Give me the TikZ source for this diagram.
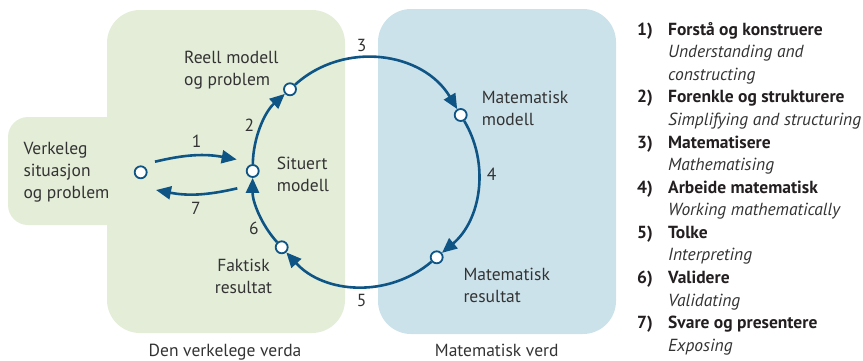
\documentclass[tikz,border=0pt]{standalone}
\usepackage{fontspec}
\setmainfont{PT Sans}
\usetikzlibrary{arrows.meta}
\definecolor{realgreen}{HTML}{E3EDD8}
\definecolor{mathblue}{HTML}{CCE2EB}
\definecolor{cycleblue}{HTML}{0E5586}
\definecolor{labelgrey}{HTML}{333333}
\definecolor{listink}{HTML}{231F20}

\begin{document}
\begin{tikzpicture}[x=1pt,y=1pt,
    ring/.style={circle,draw=cycleblue,fill=white,line width=1.8pt,
      minimum size=12pt,inner sep=0pt},
    flow/.style={draw=cycleblue,line width=2.6pt,
      -{Triangle[length=15pt,width=13pt]}},
    lbl/.style={font=\fontsize{17.5}{22}\selectfont,text=labelgrey,
      align=left,inner sep=0pt},
    num/.style={font=\fontsize{17.5}{22}\selectfont,text=labelgrey,
      inner sep=0pt}]
  \useasboundingbox (0,0) rectangle (863,360);
  % the two worlds
  \fill[realgreen,rounded corners=33] (107,27) rectangle (345,350);
  \fill[realgreen,rounded corners=20] (8,135) rectangle (150,243);
  \fill[mathblue,rounded corners=33] (378,26) rectangle (616,351);
  \node[lbl,anchor=base] (realname) at (225,4) {Den verkelege verda};
  \node[lbl,anchor=base] (mathname) at (496.7,3.5) {Matematisk verd};

  % stations
  \node[ring] (verk) at (140.7,187.7) {};
  \node[ring] (sit) at (252.7,189) {};
  \node[ring] (reell) at (290,270.7) {};
  \node[ring] (matmod) at (460.7,245) {};
  \node[ring] (matres) at (436.7,102.7) {};
  \node[ring] (fakt) at (281.7,112.7) {};

  \node[lbl,anchor=west] (verktext) at (23.3,187.5) {Verkeleg\\situasjon\\og problem};
  \node[lbl,anchor=west] (sittext) at (276.7,185.5) {Situert\\modell};
  \node[lbl,anchor=west] (reelltext) at (184,289.7) {Reell modell\\og problem};
  \node[lbl,anchor=west] (matmodtext) at (481.7,251.3) {Matematisk\\modell};
  \node[lbl,anchor=west] (matrestext) at (463.3,75) {Matematisk\\resultat};
  \node[lbl,align=center] (frakttext) at (243.5,83.5) {Faktisk\\resultat};

  % the cycle
  \draw[flow] (sit) to[bend left=23.7,looseness=0.89] (reell);
  \draw[flow] (reell) to[bend left=50.7,looseness=1.04] (matmod);
  \draw[flow] (matmod) to[bend left=40.4,looseness=0.97] (matres);
  \draw[flow] (matres) to[bend left=44,looseness=0.99] (fakt);
  \draw[flow] (fakt) to[bend left=21.3,looseness=0.88] (sit);
  \draw[flow] ([xshift=14.3pt,yshift=10.6pt]verk.center)
    to[bend left=12] ([xshift=-16pt,yshift=11.5pt]sit.center);
  \draw[flow] ([xshift=-15.4pt,yshift=-17.3pt]sit.center)
    to[bend left=12] ([xshift=15.3pt,yshift=-17.7pt]verk.center);

  \node[num] (n1) at (196.7,218.3) {1};
  \node[num] (n2) at (249.3,235) {2};
  \node[num] (n3) at (361.7,315) {3};
  \node[num] (n4) at (491.7,186) {4};
  \node[num] (n5) at (361.7,60) {5};
  \node[num] (n6) at (254,131.7) {6};
  \node[num] (n7) at (196,151.7) {7};

  % legend of the steps
  \node[anchor=base west,inner sep=0pt,text=listink,
    font=\fontsize{17.5}{22.6}\selectfont] (steps) at (637,325) {%
    \begin{tabular}[t]{@{}p{31pt}@{}l@{}}
      \textbf{1)} & \textbf{Forstå og konstruere}\\
       & \textcolor{labelgrey}{\textit{Understanding and}}\\
       & \textcolor{labelgrey}{\textit{constructing}}\\
      \textbf{2)} & \textbf{Forenkle og strukturere}\\
       & \textcolor{labelgrey}{\textit{Simplifying and structuring}}\\
      \textbf{3)} & \textbf{Matematisere}\\
       & \textcolor{labelgrey}{\textit{Mathematising}}\\
      \textbf{4)} & \textbf{Arbeide matematisk}\\
       & \textcolor{labelgrey}{\textit{Working mathematically}}\\
      \textbf{5)} & \textbf{Tolke}\\
       & \textcolor{labelgrey}{\textit{Interpreting}}\\
      \textbf{6)} & \textbf{Validere}\\
       & \textcolor{labelgrey}{\textit{Validating}}\\
      \textbf{7)} & \textbf{Svare og presentere}\\
       & \textcolor{labelgrey}{\textit{Exposing}}
    \end{tabular}};
\end{tikzpicture}
\end{document}
